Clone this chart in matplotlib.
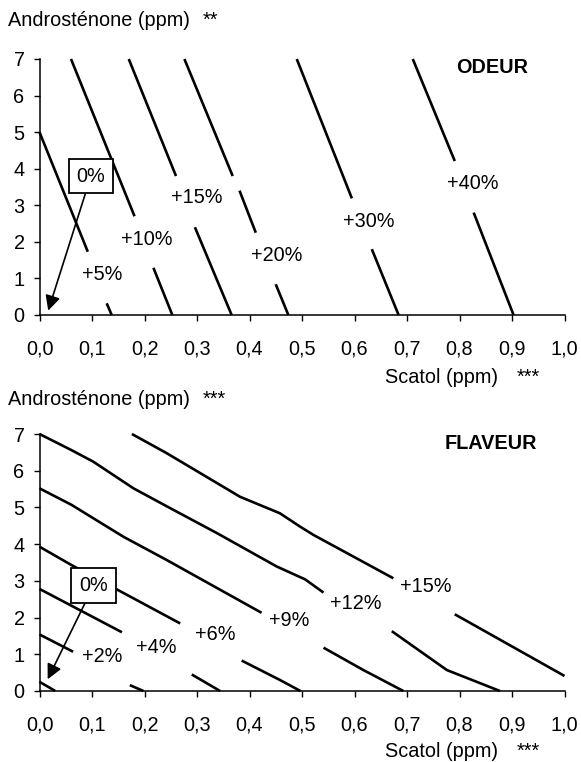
import numpy as np
import matplotlib
matplotlib.use("Agg")
import matplotlib.pyplot as plt

nan = np.nan

# ---------------- data ----------------
x_ticks = [0.0, 0.1, 0.2, 0.3, 0.4, 0.5, 0.6, 0.7, 0.8, 0.9, 1.0]
x_tick_labels = ["0,0", "0,1", "0,2", "0,3", "0,4", "0,5", "0,6", "0,7", "0,8", "0,9", "1,0"]
y_ticks = [0, 1, 2, 3, 4, 5, 6, 7]
y_tick_labels = ["0", "1", "2", "3", "4", "5", "6", "7"]

# ODEUR iso-lines (Scatol x, Androstenone y); NaN = gap left for a label
odeur_labels = ["+5%", "+10%", "+15%", "+20%", "+30%", "+40%"]
odeur_x = [
    [0.000, 0.092, nan, 0.128, 0.1375],
    [0.060, 0.181, nan, 0.217, 0.253],
    [0.170, 0.260, nan, 0.296, 0.366],
    [0.276, 0.368, nan, 0.381, 0.412, nan, 0.450, 0.474],
    [0.490, 0.595, nan, 0.633, 0.684],
    [0.711, 0.791, nan, 0.827, 0.903],
]
odeur_y = [
    [5.00, 1.73, nan, 0.32, 0.00],
    [7.00, 2.70, nan, 1.29, 0.00],
    [7.00, 3.80, nan, 2.40, 0.00],
    [7.00, 3.80, nan, 3.40, 2.25, nan, 0.84, 0.00],
    [7.00, 3.19, nan, 1.80, 0.00],
    [7.00, 4.21, nan, 2.80, 0.00],
]

# FLAVEUR iso-lines
flaveur_labels = ["0%", "+2%", "+4%", "+6%", "+9%", "+12%", "+15%"]
flaveur_x = [
    [0.000, 0.030],
    [0.000, 0.064, nan, 0.172, 0.198],
    [0.000, 0.157, nan, 0.290, 0.344],
    [0.000, 0.061, 0.268, nan, 0.385, 0.458, 0.497],
    [0.000, 0.061, 0.160, 0.242, 0.423, nan, 0.541, 0.617, 0.693],
    [0.000, 0.061, 0.102, 0.179, 0.249, 0.338, 0.452, 0.506, 0.541, nan, 0.671, 0.776, 0.877],
    [0.176, 0.242, 0.382, 0.458, 0.496, 0.522, 0.598, 0.674, nan, 0.791, 1.000],
]
flaveur_y = [
    [0.25, 0.00],
    [1.54, 1.07, nan, 0.16, 0.00],
    [2.78, 1.60, nan, 0.45, 0.00],
    [3.93, 3.43, 1.84, nan, 0.83, 0.30, 0.00],
    [5.52, 5.07, 4.20, 3.57, 2.13, nan, 1.18, 0.57, 0.00],
    [7.00, 6.56, 6.25, 5.52, 4.98, 4.30, 3.39, 3.04, 2.68, nan, 1.63, 0.57, 0.00],
    [7.00, 6.48, 5.29, 4.84, 4.48, 4.25, 3.66, 3.07, nan, 2.09, 0.41],
]

# ---------------- layout (positions of labels, in data units) ----------------
odeur_label_pos = [(0.119, 1.10), (0.204, 2.06), (0.299, 3.20), (0.452, 1.62),
                   (0.627, 2.55), (0.826, 3.60)]
flaveur_label_pos = [None, (0.119, 0.93), (0.223, 1.18), (0.334, 1.55), (0.476, 1.93),
                     (0.603, 2.38), (0.736, 2.85)]
zero_box_top = (0.098, 3.80)
zero_tip_top = (0.0166, 0.12)
zero_box_bot = (0.103, 2.87)
zero_tip_bot = (0.0156, 0.32)

W, H = 581, 762
FS = 14.3
plt.rcParams["font.family"] = ["Liberation Sans", "DejaVu Sans"]

fig = plt.figure(figsize=(W / 100, H / 100), dpi=100)
fig.patch.set_facecolor("white")


def make_axes(top_px, bottom_px):
    ax = fig.add_axes([39.5 / W, 1 - bottom_px / H, 525 / W, (bottom_px - top_px) / H])
    ax.set_xlim(0, 1)
    ax.set_ylim(0, 7)
    for s in ("top", "right"):
        ax.spines[s].set_visible(False)
    for s in ("left", "bottom"):
        ax.spines[s].set_linewidth(1.1)
        ax.spines[s].set_color("black")
    ax.set_xticks(x_ticks)
    ax.set_xticklabels(x_tick_labels, fontsize=FS)
    ax.set_yticks(y_ticks)
    ax.set_yticklabels(y_tick_labels, fontsize=FS)
    ax.tick_params(axis="x", direction="out", length=4.3, width=1.0, pad=13.5, colors="black")
    ax.tick_params(axis="y", direction="out", length=4.3, width=1.0, pad=6.5, colors="black")
    ax.patch.set_alpha(0)
    return ax


ax1 = make_axes(59, 315)
ax2 = make_axes(434, 691)

LW = 1.9
for xs, ys in zip(odeur_x, odeur_y):
    ax1.plot(xs, ys, color="black", lw=LW, solid_capstyle="butt", clip_on=False)
for lab, pos in zip(odeur_labels, odeur_label_pos):
    ax1.text(pos[0], pos[1], lab, fontsize=FS, ha="center", va="center")

for xs, ys in zip(flaveur_x, flaveur_y):
    ax2.plot(xs, ys, color="black", lw=LW, solid_capstyle="butt",
             solid_joinstyle="round", clip_on=False)
for lab, pos in zip(flaveur_labels, flaveur_label_pos):
    if pos is not None:
        ax2.text(pos[0], pos[1], lab, fontsize=FS, ha="center", va="center")

arrow = dict(arrowstyle="-|>,head_length=0.6,head_width=0.3", color="black", lw=1.2,
             mutation_scale=15, shrinkA=0, shrinkB=0)
box = dict(boxstyle="square,pad=0.4", fc="white", ec="black", lw=1.3)
ax1.annotate("0%", xy=zero_tip_top, xytext=zero_box_top, fontsize=FS, ha="center",
             va="center", bbox=box, arrowprops=arrow)
ax2.annotate("0%", xy=zero_tip_bot, xytext=zero_box_bot, fontsize=FS, ha="center",
             va="center", bbox=box, arrowprops=arrow)

ax1.text(0.863, 6.77, "ODEUR", fontsize=FS, fontweight="bold", ha="center", va="center")
ax2.text(0.859, 6.74, "FLAVEUR", fontsize=FS, fontweight="bold", ha="center", va="center")


def ftext(px, py, s, **kw):
    fig.text(px / W, 1 - py / H, s, fontsize=FS, va="baseline", ha="left", **kw)


ftext(8.3, 26.3, "Androsténone (ppm)")
ftext(203, 26.3, "**")
ftext(385, 382.7, "Scatol (ppm)")
ftext(517, 382.7, "***")
ftext(8.3, 405, "Androsténone (ppm)")
ftext(203, 405, "***")
ftext(385, 757.3, "Scatol (ppm)")
ftext(517, 757.3, "***")

fig.savefig("out.png", dpi=100, facecolor="white")
